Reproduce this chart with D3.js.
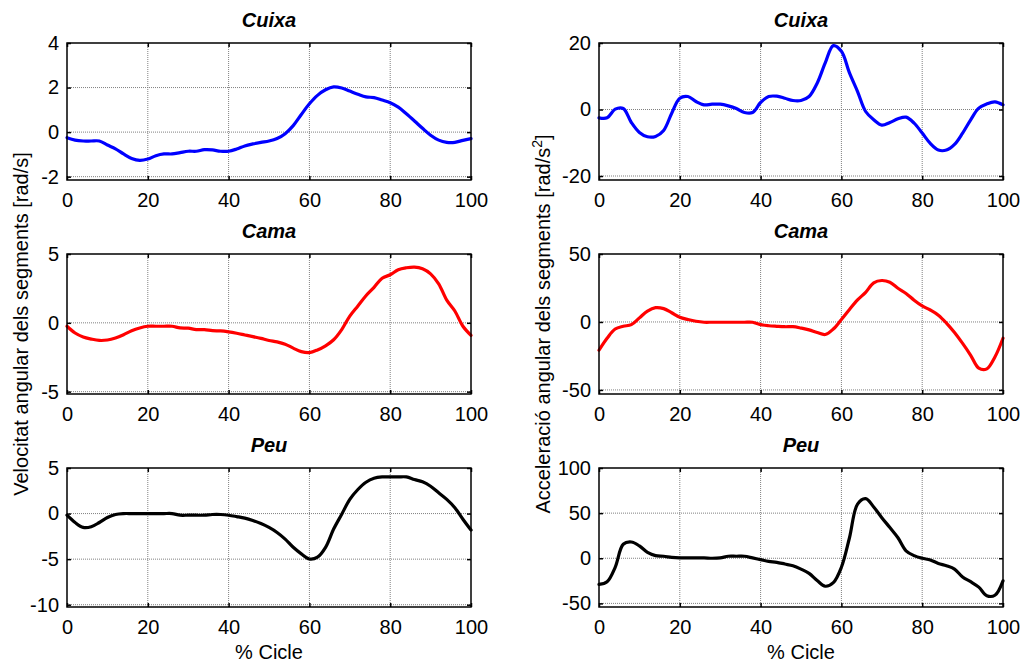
<!DOCTYPE html>
<html>
<head>
<meta charset="utf-8">
<script src="https://cdn.jsdelivr.net/npm/d3@7"></script>
<style>
  html, body { margin: 0; padding: 0; background: #fff; }
  svg { display: block; }
  text { font-family: "Liberation Sans", Arial, Helvetica, sans-serif; }
</style>
</head>
<body>
<svg id="chart" width="1023" height="664"></svg>
<script>
// ---- data ----
const cycle = d3.range(0, 101, 2); // % Cicle, 0..100 step 2
const xTicks = [0, 20, 40, 60, 80, 100];

const cuixaVel = [-0.25,-0.36,-0.4,-0.4,-0.4,-0.58,-0.75,-0.98,-1.18,-1.27,-1.21,-1.06,-0.98,-0.98,-0.92,-0.86,-0.86,-0.79,-0.8,-0.86,-0.86,-0.76,-0.62,-0.53,-0.46,-0.4,-0.29,-0.07,0.29,0.79,1.27,1.65,1.9,2.03,1.98,1.84,1.7,1.58,1.55,1.44,1.32,1.12,0.82,0.5,0.17,-0.14,-0.36,-0.46,-0.46,-0.37,-0.29];
const cuixaAcc = [-2.5,-2.5,0.1,0.3,-3.9,-6.9,-8.2,-8.1,-6.3,-1.1,3.4,3.9,2.4,1.4,1.6,1.6,1.1,0.3,-0.9,-0.9,2.1,3.9,4.0,3.4,2.7,2.7,3.9,7.9,14,19.2,17.5,11,5.4,-0.6,-3.1,-4.7,-3.9,-2.8,-2.3,-4.1,-7.1,-10.2,-12.2,-12.2,-10.5,-7.1,-3.1,0.4,1.7,2.3,1.4];
const camaVel = [-0.25,-0.74,-1.03,-1.18,-1.28,-1.25,-1.1,-0.86,-0.57,-0.37,-0.25,-0.25,-0.25,-0.25,-0.37,-0.39,-0.49,-0.49,-0.57,-0.59,-0.66,-0.76,-0.88,-1.0,-1.13,-1.28,-1.38,-1.55,-1.84,-2.09,-2.16,-1.97,-1.67,-1.23,-0.49,0.49,1.23,1.97,2.58,3.24,3.49,3.86,4.0,4.05,3.93,3.56,2.83,1.65,0.86,-0.25,-0.91];
const camaAcc = [-20.8,-12,-5.2,-3.2,-2,3,8,10.5,9.8,6.8,3.5,1.8,0.5,-0.2,-0.2,-0.2,-0.2,-0.2,-0.2,-0.2,-2,-2.8,-3.2,-3.5,-3.5,-4.5,-5.8,-7.8,-9.2,-5.2,1.8,9.2,16.2,21.8,28.8,30.5,29.2,24.8,21,16,11.8,8.8,5,-0.8,-7.8,-15.8,-24.5,-34,-34.5,-25.8,-12];
const peuVel = [-0.18,-0.98,-1.52,-1.45,-0.98,-0.43,-0.1,0,0,0,0,0,0,0,-0.18,-0.18,-0.18,-0.18,-0.1,-0.1,-0.18,-0.33,-0.5,-0.76,-1.09,-1.52,-2.07,-2.8,-3.7,-4.42,-4.98,-4.78,-3.7,-1.7,-0.07,1.56,2.64,3.44,3.88,4.02,4.02,4.02,4.02,3.73,3.48,3.0,2.28,1.56,0.65,-0.62,-1.81];
const peuAcc = [-29,-26,-10,15.5,18,13.7,6.5,2.9,2.2,1,0.4,0.4,0.4,0.4,0,0.4,2.2,2.2,2.2,0.4,-1.5,-3.4,-4.5,-6.4,-8.3,-12,-16.7,-24.6,-31,-27,-10,22.7,60,66,56.8,45,34,22.7,8.3,2.9,0,-1.9,-5.7,-8.3,-12,-20.8,-26,-32,-41.5,-41,-25];

// y-axis ticks and limits per panel
const ticksCuixaVel = [-2, 0, 2, 4],   limCuixaVel = [-2.15, 4];
const ticksCuixaAcc = [-20, 0, 20],    limCuixaAcc = [-21.2, 20];
const ticksCamaVel  = [-5, 0, 5],      limCamaVel  = [-5.17, 5];
const ticksCamaAcc  = [-50, 0, 50],    limCamaAcc  = [-53, 50];
const ticksPeuVel   = [-10, -5, 0, 5], limPeuVel   = [-10.25, 5];
const ticksPeuAcc   = [-50, 0, 50, 100], limPeuAcc = [-54, 100];

const titles = ["Cuixa", "Cama", "Peu"];

// ---- layout ----
const svg = d3.select("#chart");
const cols = [{x0: 67, x1: 471}, {x0: 599, x1: 1003}];
const rows = [{y0: 43, y1: 180}, {y0: 254, y1: 394}, {y0: 468, y1: 607}];

const panels = [
  {r:0, c:0, data: cuixaVel, ticks: ticksCuixaVel, lim: limCuixaVel, color: "#0000ff"},
  {r:0, c:1, data: cuixaAcc, ticks: ticksCuixaAcc, lim: limCuixaAcc, color: "#0000ff"},
  {r:1, c:0, data: camaVel,  ticks: ticksCamaVel,  lim: limCamaVel,  color: "#ff0000"},
  {r:1, c:1, data: camaAcc,  ticks: ticksCamaAcc,  lim: limCamaAcc,  color: "#ff0000"},
  {r:2, c:0, data: peuVel,   ticks: ticksPeuVel,   lim: limPeuVel,   color: "#000000"},
  {r:2, c:1, data: peuAcc,   ticks: ticksPeuAcc,   lim: limPeuAcc,   color: "#000000"}
];

const FONT = 20;
const TL = 4; // tick length

panels.forEach(p => {
  const col = cols[p.c], row = rows[p.r];
  const x = d3.scaleLinear().domain([0, 100]).range([col.x0, col.x1]);
  const y = d3.scaleLinear().domain(p.lim).range([row.y1, row.y0]);
  const g = svg.append("g");

  // grid
  const grid = g.append("g").attr("stroke", "#808080").attr("stroke-width", 1).attr("stroke-dasharray", "1,1");
  xTicks.forEach(t => {
    if (t === 0 || t === 100) return;
    grid.append("line").attr("x1", x(t)).attr("x2", x(t)).attr("y1", row.y0).attr("y2", row.y1);
  });
  p.ticks.forEach(t => {
    if (y(t) <= row.y0 + 1) return;
    grid.append("line").attr("x1", col.x0).attr("x2", col.x1).attr("y1", y(t)).attr("y2", y(t));
  });

  // data line
  const line = d3.line().x((d, i) => x(cycle[i])).y(d => y(d)).curve(d3.curveCatmullRom.alpha(0.5));
  g.append("path").datum(p.data).attr("d", line)
    .attr("fill", "none").attr("stroke", p.color).attr("stroke-width", 3.2)
    .attr("stroke-linejoin", "round").attr("stroke-linecap", "round");

  // axes (inner ticks, box)
  const fmt = d => String(d);
  const axB = d3.axisBottom(x).tickValues(xTicks).tickSize(-TL).tickPadding(13).tickFormat(fmt);
  const axT = d3.axisTop(x).tickValues(xTicks).tickSize(-TL).tickFormat("");
  const axL = d3.axisLeft(y).tickValues(p.ticks).tickSize(-TL).tickPadding(8).tickFormat(fmt);
  const axR = d3.axisRight(y).tickValues(p.ticks).tickSize(-TL).tickFormat("");

  const styleAx = sel => {
    sel.selectAll(".domain").remove();
    sel.selectAll(".tick line").attr("stroke", "#000").attr("stroke-width", 1.5);
    sel.selectAll(".tick text").attr("fill", "#000").style("font-size", FONT + "px")
      .style("font-family", "'Liberation Sans', Arial, sans-serif");
  };
  g.append("g").attr("transform", `translate(0,${row.y1})`).call(axB).call(styleAx);
  g.append("g").attr("transform", `translate(0,${row.y0})`).call(axT).call(styleAx);
  g.append("g").attr("transform", `translate(${col.x0},0)`).call(axL).call(styleAx);
  g.append("g").attr("transform", `translate(${col.x1},0)`).call(axR).call(styleAx);

  g.append("rect").attr("x", col.x0).attr("y", row.y0)
    .attr("width", col.x1 - col.x0).attr("height", row.y1 - row.y0)
    .attr("fill", "none").attr("stroke", "#000").attr("stroke-width", 1.5);

  // title
  g.append("text").attr("x", (col.x0 + col.x1) / 2).attr("y", row.y0 - 16)
    .attr("text-anchor", "middle").style("font-size", "20px")
    .style("font-weight", "bold").style("font-style", "italic")
    .text(titles[p.r]);

  if (p.r === 2) {
    g.append("text").attr("x", (col.x0 + col.x1) / 2).attr("y", 659)
      .attr("text-anchor", "middle").style("font-size", FONT + "px").text("% Cicle");
  }
});

// y labels
const midY = (rows[1].y0 + rows[1].y1) / 2;
svg.append("text").attr("transform", `translate(28,${midY}) rotate(-90)`)
  .attr("text-anchor", "middle").style("font-size", FONT + "px")
  .text("Velocitat angular dels segments [rad/s]");
const accLabel = svg.append("text").attr("transform", `translate(550,${midY}) rotate(-90)`)
  .attr("text-anchor", "middle").style("font-size", FONT + "px");
accLabel.append("tspan").text("Acceleració angular dels segments [rad/s");
accLabel.append("tspan").attr("dy", -8).style("font-size", "14px").text("2");
accLabel.append("tspan").attr("dy", 8).text("]");
</script>
</body>
</html>
